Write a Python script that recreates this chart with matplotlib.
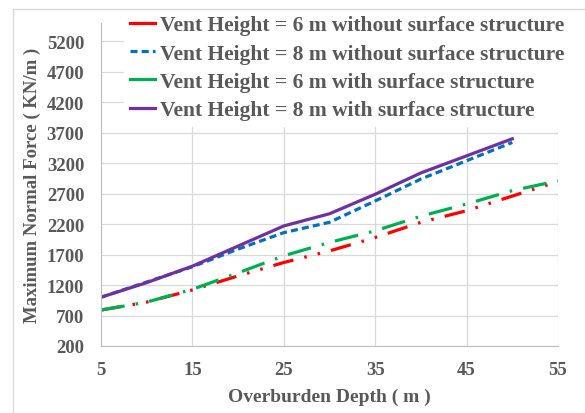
import matplotlib.pyplot as plt
from matplotlib.lines import Line2D
from matplotlib.patches import Rectangle

# values
depth_long = [5, 10, 15, 20, 25, 30, 35, 40, 45, 50, 55]
depth_short = [5, 10, 15, 20, 25, 30, 35, 40, 45, 50]

h6_without = [790, 920, 1120, 1350, 1570, 1760, 1980, 2230, 2420, 2660, 2900]
h8_without = [1000, 1250, 1500, 1790, 2060, 2230, 2580, 2940, 3240, 3540]
h6_with = [790, 920, 1130, 1400, 1680, 1900, 2090, 2330, 2530, 2750, 2910]
h8_with = [1000, 1240, 1510, 1840, 2170, 2370, 2690, 3040, 3320, 3600]

labels = ["Vent Height = 6 m without surface structure",
          "Vent Height = 8 m without surface structure",
          "Vent Height = 6 m with surface structure",
          "Vent Height = 8 m with surface structure"]
colors = ["#FF0000", "#0070C0", "#00B050", "#7030A0"]

xticks = [5, 15, 25, 35, 45, 55]
yticks = list(range(200, 5201, 500))

txt = "#595959"
plt.rcParams['font.family'] = ['Liberation Serif', 'DejaVu Serif']
plt.rcParams['font.weight'] = 'bold'

fig = plt.figure(figsize=(5.85, 4.14), dpi=100)
ax = fig.add_axes([101/585, 1-347/414, (558-101)/585, (347-24)/414])

lw = 2.3
ax.plot(depth_long, h6_without, color=colors[0], lw=lw, dashes=(6.5, 3.5, 0.8, 3.5, 0.8, 3.5))
ax.plot(depth_short, h8_without, color=colors[1], lw=lw, dashes=(2.2, 1.3))
ax.plot(depth_long, h6_with, color=colors[2], lw=lw, dashes=(7.5, 3.5, 0.8, 3.5))
ax.plot(depth_short, h8_with, color=colors[3], lw=lw)

ax.set_xlim(5, 55)
ax.set_ylim(200, 5500)
ax.set_xticks(xticks)
ax.set_yticks(yticks)
ax.grid(True, color="#D9D9D9", lw=0.9)
ax.set_axisbelow(True)
for s in ['top', 'right']:
    ax.spines[s].set_visible(False)
for s in ['left', 'bottom']:
    ax.spines[s].set_color("#BFBFBF")
ax.tick_params(axis='x', length=0, pad=11, labelsize=13.5, labelcolor=txt)
ax.tick_params(axis='y', length=0, pad=12, labelsize=13.5, labelcolor=txt)
ax.set_xlabel("Overburden Depth ( m )", fontsize=14, color=txt, fontweight='bold', labelpad=7)
ax.set_ylabel("Maximum Normal Force ( KN/m )", fontsize=13.5, color=txt, fontweight='bold', labelpad=4)

handles = [Line2D([], [], color=colors[0], lw=lw),
           Line2D([], [], color=colors[1], lw=lw, dashes=(2.2, 1.3)),
           Line2D([], [], color=colors[2], lw=lw),
           Line2D([], [], color=colors[3], lw=lw)]
leg = fig.legend(handles, labels, loc='upper left', bbox_to_anchor=(113/585, 1+1/414),
                 fontsize=15.5, frameon=True, facecolor='white', edgecolor='none',
                 framealpha=1, handlelength=1.15, handletextpad=0.25, labelspacing=0.38,
                 borderpad=0.3, fancybox=False)
for t in leg.get_texts():
    t.set_color(txt)
    t.set_fontweight('bold')

# light chart-area border, cut off at the right and bottom like the reference
border = Rectangle((12.5/585, -0.1), 1.2, 1-9.5/414+0.1, transform=fig.transFigure,
                   fill=False, edgecolor="#D9D9D9", lw=1, zorder=10)
fig.patches.append(border)

fig.savefig("out.png", dpi=100)
